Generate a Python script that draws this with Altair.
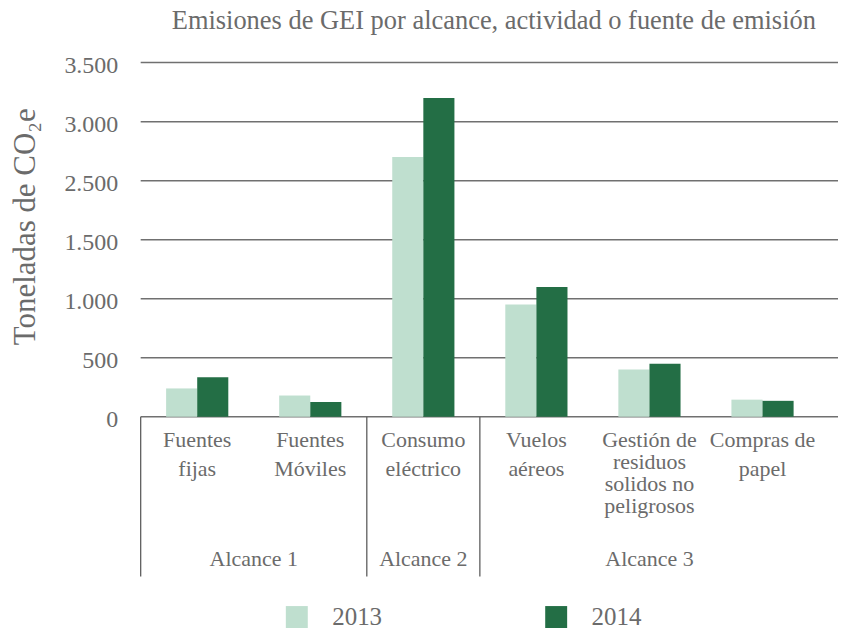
import altair as alt
import pandas as pd

# ---------------- data ----------------
title_text = "Emisiones de GEI por alcance, actividad o fuente de emisión"
y_title = "Toneladas de CO₂e"
categories = ["Fuentes fijas", "Fuentes Móviles", "Consumo eléctrico", "Vuelos aéreos",
              "Gestión de residuos solidos no peligrosos", "Compras de papel"]
label_lines = [["Fuentes", "fijas"], ["Fuentes", "Móviles"], ["Consumo", "eléctrico"],
               ["Vuelos", "aéreos"], ["Gestión de", "residuos", "solidos no", "peligrosos"],
               ["Compras de", "papel"]]
scopes = ["Alcance 1", "Alcance 1", "Alcance 2", "Alcance 3", "Alcance 3", "Alcance 3"]
years = ["2013", "2014"]
values_2013 = [240, 180, 2700, 950, 400, 145]
values_2014 = [335, 125, 3200, 1100, 450, 135]
y_ticks = [0, 500, 1000, 1500, 2500, 3000, 3500]
colors = ["#bfdfcf", "#236e45"]

# ---------------- style ----------------
FONT = "Liberation Serif"
TEXT = "#6b6b6b"
GRID = "#707070"
SEP = "#5e5e5e"
W, H = 680, 355
GRID_W = 699

n = len(categories)
df = pd.DataFrame({
    "cat": categories * 2,
    "year": [years[0]] * n + [years[1]] * n,
    "value": values_2013 + values_2014,
})

labels_df = pd.DataFrame({
    "cat": categories,
    "text": ["\n".join(l) for l in label_lines],
    "nlines": [len(l) for l in label_lines],
})

# scope groups (separators + centred labels)
groups = []
start = 0
for i in range(1, n + 1):
    if i == n or scopes[i] != scopes[start]:
        groups.append({"scope": scopes[start], "start": start, "mid": (start + i) / 2})
        start = i
groups_df = pd.DataFrame(groups)

yscale = alt.Scale(domain=y_ticks,
                   range=[H - i * H / (len(y_ticks) - 1) for i in range(len(y_ticks))],
                   nice=False)

yaxis = alt.Axis(values=y_ticks,
                 labelExpr="replace(format(datum.value, ','), ',', '.')",
                 title=y_title, titleFont=FONT, titleFontSize=31, titleColor=TEXT,
                 titleFontWeight="normal", titleAngle=270, titleX=-106, titleY=164,
                 titleAlign="center", titleBaseline="alphabetic",
                 labelFont=FONT, labelFontSize=24, labelColor=TEXT, labelPadding=23,
                 labelOffset=3, domain=False, ticks=False, tickSize=0, grid=False)

grid = alt.Chart(pd.DataFrame({"value": y_ticks})).mark_rule(
    color=GRID, strokeWidth=1.5).encode(
    y=alt.Y("value:Q", scale=yscale, axis=yaxis),
    x=alt.value(0), x2=alt.value(GRID_W))

bars = alt.Chart(df).mark_bar().encode(
    x=alt.X("cat:N", sort=categories,
            scale=alt.Scale(paddingInner=0.45, paddingOuter=0.225), axis=None),
    xOffset=alt.XOffset("year:N", sort=years),
    y=alt.Y("value:Q", scale=yscale, axis=yaxis),
    color=alt.Color("year:N", scale=alt.Scale(domain=years, range=colors),
                    legend=alt.Legend(title=None, orient="none", legendX=144, legendY=543,
                                      direction="horizontal", symbolType="square",
                                      symbolSize=484, symbolStrokeWidth=0, symbolOpacity=1,
                                      labelFont=FONT, labelFontSize=25, labelColor=TEXT,
                                      labelOffset=23, columnPadding=162, padding=0)),
)

pscale = alt.Scale(type="point", domain=categories, padding=0.5)


def cat_labels(cond, line_height):
    return alt.Chart(labels_df).transform_filter(cond).mark_text(
        font=FONT, fontSize=22, color=TEXT, baseline="alphabetic", align="center",
        lineBreak="\n", lineHeight=line_height).encode(
        x=alt.X("cat:N", scale=pscale, axis=None),
        y=alt.value(385.3),
        text="text:N")


cat_text_short = cat_labels("datum.nlines <= 2", 29.5)
cat_text_long = cat_labels("datum.nlines > 2", 22)

qx = alt.Scale(domain=[0, n], nice=False, zero=False)

seps = alt.Chart(groups_df).mark_rule(color=SEP, strokeWidth=1.3).encode(
    x=alt.X("start:Q", scale=qx, axis=None),
    y=alt.value(H), y2=alt.value(H + 160))

scope_text = alt.Chart(groups_df).mark_text(
    font=FONT, fontSize=22, color=TEXT, baseline="alphabetic", align="center").encode(
    x=alt.X("mid:Q", scale=qx, axis=None),
    y=alt.value(505),
    text="scope:N")

chart = alt.layer(grid, bars, cat_text_short, cat_text_long, seps, scope_text).resolve_scale(
    x="independent").properties(
    width=W, height=H,
    autosize=alt.AutoSizeParams(type="none"),
    padding={"left": 133, "top": 54, "right": 19, "bottom": 214},
    background="white",
    title=alt.TitleParams(text=title_text, font=FONT, fontSize=26.5, color=TEXT,
                          fontWeight="normal", anchor="middle", dx=14, offset=-2,
                          baseline="alphabetic"),
).configure_view(stroke=None)

chart.save("out.html", embed_options={"renderer": "svg", "actions": False})
